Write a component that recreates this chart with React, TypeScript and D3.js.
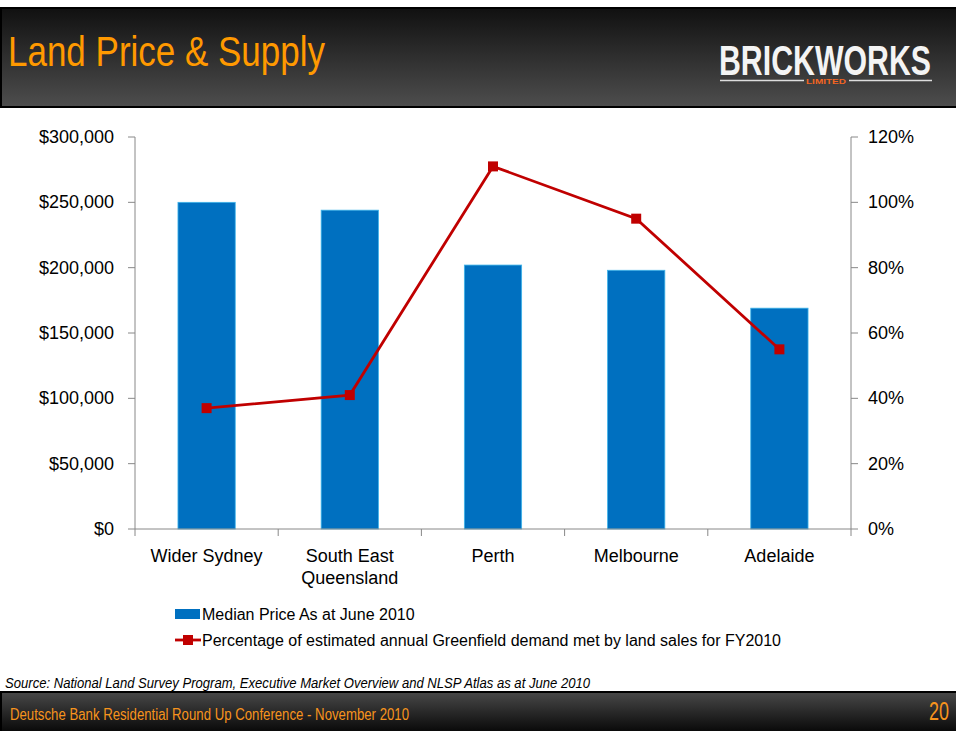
import * as React from "react";
import * as d3 from "d3";

// chart data
const regions = ["Wider Sydney", "South East|Queensland", "Perth", "Melbourne", "Adelaide"];
const medianPrice = [250000, 244000, 202000, 198000, 169000];
const demandMet = [0.37, 0.41, 1.11, 0.95, 0.55];
const priceTicks = [0, 50000, 100000, 150000, 200000, 250000, 300000];
const pctTicks = [0, 0.2, 0.4, 0.6, 0.8, 1.0, 1.2];

const W = 956, H = 731;
const narrow = "'Liberation Sans Narrow', 'Arial Narrow', 'Liberation Sans', sans-serif";
const sans = "'Liberation Sans', Arial, sans-serif";

export default function App() {
  // plot area
  const left = 135, right = 851, top = 137, bottom = 529;

  const x = d3.scaleBand().domain(regions).range([left, right]).paddingInner(0).paddingOuter(0);
  const yL = d3.scaleLinear().domain([0, 300000]).range([bottom, top]);
  const yR = d3.scaleLinear().domain([0, 1.2]).range([bottom, top]);
  const barW = x.bandwidth() * 0.4;

  const fmtPrice = (v: number) => "$" + d3.format(",")(v);
  const fmtPct = d3.format(".0%");

  const line = d3.line<number>()
    .x((d, i) => x(regions[i])! + x.bandwidth() / 2)
    .y(d => yR(d));

  const boundaries = regions.map(r => x(r)!).concat([right]);

  return (
    <svg width={W} height={H} style={{ position: "absolute", left: 0, top: 0, display: "block" }}>
      <defs>
        <linearGradient id="hdr" x1="0" y1="0" x2="0" y2="1">
          <stop offset="0" stopColor="#111" />
          <stop offset="1" stopColor="#4d4d4d" />
        </linearGradient>
        <linearGradient id="ftr" x1="0" y1="0" x2="0" y2="1">
          <stop offset="0" stopColor="#474747" />
          <stop offset="1" stopColor="#0a0a0a" />
        </linearGradient>
      </defs>
      <rect x={0} y={0} width={W} height={H} fill="#fff" />

      {/* header */}
      <rect x={0} y={7} width={W} height={101} fill="#000" />
      <rect x={2} y={9} width={W - 2} height={97} fill="url(#hdr)" />
      <text x={8} y={66} fill="#ff9900" fontFamily={narrow} fontSize={42}
        textLength={317} lengthAdjust="spacingAndGlyphs">Land Price &amp; Supply</text>

      {/* logo */}
      <text x={825} y={75} textAnchor="middle" fill="#f4f4f4" fontFamily={narrow} fontWeight="bold"
        fontSize={42} textLength={212} lengthAdjust="spacingAndGlyphs">BRICKWORKS</text>
      <line x1={720} x2={804} y1={80.5} y2={80.5} stroke="#ddd" strokeWidth={1.5} />
      <line x1={849} x2={932} y1={80.5} y2={80.5} stroke="#ddd" strokeWidth={1.5} />
      <text x={826} y={84} textAnchor="middle" fill="#f26522" fontFamily={narrow} fontWeight="bold"
        fontSize={7} textLength={40} lengthAdjust="spacingAndGlyphs">LIMITED</text>

      {/* bars */}
      {medianPrice.map((v, i) => (
        <rect key={regions[i]} x={x(regions[i])! + (x.bandwidth() - barW) / 2} y={yL(v)}
          width={barW} height={bottom - yL(v)} fill="#0070c0" stroke="#3fb4ea" strokeWidth={0.8} />
      ))}

      {/* axes */}
      <g stroke="#888" strokeWidth={1} fill="none">
        <line x1={left} x2={left} y1={top} y2={bottom} />
        <line x1={right} x2={right} y1={top} y2={bottom} />
        <line x1={left} x2={right} y1={bottom} y2={bottom} />
        {priceTicks.map(t => <line key={"l" + t} x1={left - 7} x2={left} y1={yL(t)} y2={yL(t)} />)}
        {pctTicks.map(t => <line key={"r" + t} x1={right} x2={right + 7} y1={yR(t)} y2={yR(t)} />)}
        {boundaries.map(b => <line key={"b" + b} x1={b} x2={b} y1={bottom} y2={bottom + 7} />)}
      </g>
      <g fontFamily={sans} fontSize={18} fill="#000">
        {priceTicks.map(t => (
          <text key={"lt" + t} x={114} y={yL(t) + 6} textAnchor="end">{fmtPrice(t)}</text>
        ))}
        {pctTicks.map(t => (
          <text key={"rt" + t} x={868} y={yR(t) + 6}>{fmtPct(t)}</text>
        ))}
        {regions.map(r => (
          <text key={"c" + r} x={x(r)! + x.bandwidth() / 2} y={562} textAnchor="middle">
            {r.split("|").map((s, k) => <tspan key={k} x={x(r)! + x.bandwidth() / 2} dy={k === 0 ? 0 : 22}>{s}</tspan>)}
          </text>
        ))}
      </g>

      {/* line series */}
      <path d={line(demandMet)!} fill="none" stroke="#c00000" strokeWidth={2.8} />
      {demandMet.map((v, i) => (
        <rect key={"m" + i} x={x(regions[i])! + x.bandwidth() / 2 - 5} y={yR(v) - 5} width={10} height={10} fill="#c00000" />
      ))}

      {/* legend */}
      <g fontFamily={sans} fontSize={16} fill="#000">
        <rect x={175} y={609} width={25} height={10} fill="#0070c0" />
        <text x={202} y={620}>Median Price As at June 2010</text>
        <line x1={175} x2={201} y1={640} y2={640} stroke="#c00000" strokeWidth={2.8} />
        <rect x={183} y={635} width={10} height={10} fill="#c00000" />
        <text x={202} y={646}>Percentage of estimated annual Greenfield demand met by land sales for FY2010</text>
      </g>

      {/* source */}
      <text x={5} y={688} fontFamily={narrow} fontStyle="italic" fontSize={14} fill="#000"
        textLength={585} lengthAdjust="spacingAndGlyphs">
        Source: National Land Survey Program, Executive Market Overview and NLSP Atlas as at June 2010
      </text>

      {/* footer */}
      <rect x={0} y={691} width={W} height={40} fill="#000" />
      <rect x={2} y={693} width={W - 2} height={38} fill="url(#ftr)" />
      <text x={10} y={720} fill="#f7941d" fontFamily={narrow} fontSize={16}
        textLength={399} lengthAdjust="spacingAndGlyphs">
        Deutsche Bank Residential Round Up Conference  - November 2010
      </text>
      <text x={949} y={720} textAnchor="end" fill="#f7941d" fontFamily={narrow} fontSize={25}
        textLength={20} lengthAdjust="spacingAndGlyphs">20</text>
    </svg>
  );
}
